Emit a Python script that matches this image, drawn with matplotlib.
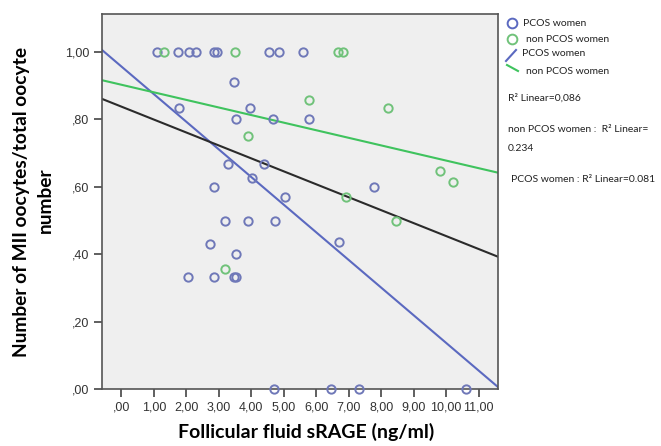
import matplotlib
matplotlib.use("Agg")
import matplotlib.pyplot as plt
from matplotlib.lines import Line2D
import numpy as np

# ---------------- data ----------------
pcos_x = [1.08, 1.73, 2.08, 2.29, 2.85, 2.95, 4.55, 4.86, 5.58,
          3.47, 1.77, 3.95, 3.53, 4.66, 5.78, 3.29, 4.39, 4.02,
          2.84, 7.78, 5.04, 3.19, 3.91, 4.72, 2.73, 6.70, 3.52,
          2.06, 2.84, 3.46, 3.54, 4.71, 6.47, 7.32, 10.61]
pcos_y = [1.0, 1.0, 1.0, 1.0, 1.0, 1.0, 1.0, 1.0, 1.0,
          0.91, 0.834, 0.834, 0.80, 0.80, 0.80, 0.667, 0.667, 0.625,
          0.60, 0.60, 0.571, 0.50, 0.50, 0.50, 0.429, 0.436, 0.40,
          0.333, 0.333, 0.333, 0.333, 0.0, 0.0, 0.0, 0.0]

non_x = [1.30, 3.49, 6.67, 6.83, 3.91, 5.78, 8.22, 9.81, 10.20, 6.91, 8.47, 3.19]
non_y = [1.0, 1.0, 1.0, 1.0, 0.75, 0.857, 0.833, 0.647, 0.615, 0.571, 0.50, 0.357]

# fit lines (intercept, slope)
fit_pcos = (0.957, -0.0820)
fit_non = (0.903, -0.0225)
fit_total = (0.838, -0.0384)

xticks = [0, 1, 2, 3, 4, 5, 6, 7, 8, 9, 10, 11]
xtick_labels = [",00", "1,00", "2,00", "3,00", "4,00", "5,00", "6,00",
                "7,00", "8,00", "9,00", "10,00", "11,00"]
yticks = [0.0, 0.2, 0.4, 0.6, 0.8, 1.0]
ytick_labels = [",00", ",20", ",40", ",60", ",80", "1,00"]

xlim = (-0.6, 11.6)
ylim = (0.0, 1.113)

# ---------------- style ----------------
c_blue_pt = "#6f78b8"
c_green_pt = "#70c27a"
c_blue_ln = "#5b69c0"
c_green_ln = "#3fc35e"
c_black_ln = "#2b2b2b"

W, H = 661, 446
fig = plt.figure(figsize=(W / 100, H / 100), dpi=100)
fig.patch.set_facecolor("white")
ax = fig.add_axes([102 / W, 1 - 389 / H, (498 - 102) / W, (389 - 14) / H])
ax.set_facecolor("#efefef")

xs = np.array(xlim)
for (b, m), col in [(fit_pcos, c_blue_ln), (fit_non, c_green_ln), (fit_total, c_black_ln)]:
    ax.plot(xs, b + m * xs, color=col, lw=1.5, zorder=2)

ax.plot(pcos_x, pcos_y, "o", ms=6, mfc="none", mec=c_blue_pt, mew=1.4,
        clip_on=False, zorder=3)
ax.plot(non_x, non_y, "o", ms=6, mfc="none", mec=c_green_pt, mew=1.4,
        clip_on=False, zorder=3)

ax.set_xlim(*xlim)
ax.set_ylim(*ylim)
ax.set_xticks(xticks)
ax.set_xticklabels(xtick_labels)
ax.set_yticks(yticks)
ax.set_yticklabels(ytick_labels)
ax.tick_params(direction="out", length=6, width=1.2, color="#444444",
               labelsize=9, labelcolor="#333333", pad=3)
for lab in ax.get_xticklabels() + ax.get_yticklabels():
    lab.set_fontfamily("Liberation Sans")
for s in ax.spines.values():
    s.set_color("#555555")
    s.set_linewidth(1.2)

def fx(px):
    return px / W

def fy(py):
    return 1 - py / H

fig.text(fx(306), fy(432), "Follicular fluid sRAGE (ng/ml)", ha="center",
         va="center", fontsize=14, fontweight="bold", family="Lato")
fig.text(fx(22), fy(202), "Number of MII oocytes/total oocyte",
         rotation=90, ha="center", va="center", fontsize=13.8,
         fontweight="bold", family="Lato")
fig.text(fx(45), fy(200), "number", rotation=90, ha="center", va="center",
         fontsize=13.8, fontweight="bold", family="Lato")

# ---------------- legend / annotations ----------------
fig.add_artist(Line2D([fx(512)], [fy(23)], marker="o", ms=7, mfc="none",
                      mec=c_blue_ln, mew=1.4, transform=fig.transFigure))
fig.add_artist(Line2D([fx(512)], [fy(39)], marker="o", ms=7, mfc="none",
                      mec=c_green_pt, mew=1.4, transform=fig.transFigure))
fig.add_artist(Line2D([fx(506), fx(516)], [fy(61), fy(50)], color=c_blue_ln,
                      lw=1.5, transform=fig.transFigure))
fig.add_artist(Line2D([fx(507), fx(518)], [fy(65), fy(71)], color=c_green_ln,
                      lw=1.5, transform=fig.transFigure))

tkw = dict(fontsize=7.5, family="Lato", va="center", ha="left", color="#222222")
fig.text(fx(523), fy(23), "PCOS women", **tkw)
fig.text(fx(526), fy(40), "non PCOS women", **tkw)
fig.text(fx(522), fy(54), "PCOS women", **tkw)
fig.text(fx(526), fy(71), "non PCOS women", **tkw)
fig.text(fx(508), fy(98), "R² Linear=0,086", **tkw)
fig.text(fx(508), fy(130), "non PCOS women :  R² Linear=", **tkw)
fig.text(fx(508), fy(148), "0.234", **tkw)
fig.text(fx(511), fy(180), "PCOS women : R² Linear=0.081", **tkw)

fig.savefig("out.png", dpi=100)
